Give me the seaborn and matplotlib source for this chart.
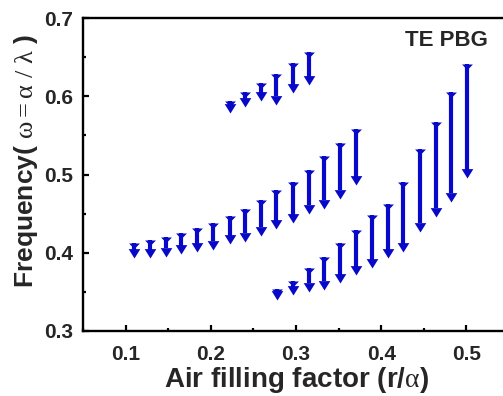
import numpy as np
import pandas as pd
import seaborn as sns
import matplotlib
matplotlib.use("Agg")
import matplotlib.pyplot as plt
from matplotlib.path import Path
from matplotlib.ticker import MultipleLocator

# Photonic band gaps (TE): each arrow runs from the upper gap edge down to the lower edge
upper_r = [0.222, 0.240, 0.259, 0.277, 0.296, 0.315]
upper_hi = [0.594, 0.605, 0.617, 0.629, 0.643, 0.657]
upper_lo = [0.578, 0.586, 0.594, 0.589, 0.604, 0.614]

middle_r = [0.110, 0.129, 0.147, 0.165, 0.184, 0.203, 0.222, 0.240,
            0.259, 0.277, 0.296, 0.315, 0.333, 0.352, 0.371]
middle_hi = [0.412, 0.416, 0.420, 0.425, 0.431, 0.438, 0.447, 0.456,
             0.467, 0.480, 0.490, 0.506, 0.524, 0.540, 0.558]
middle_lo = [0.393, 0.393, 0.395, 0.398, 0.401, 0.404, 0.411, 0.414,
             0.422, 0.430, 0.438, 0.450, 0.456, 0.469, 0.486]

lower_r = [0.278, 0.296, 0.315, 0.333, 0.352, 0.371, 0.389,
           0.408, 0.426, 0.445, 0.464, 0.482, 0.501]
lower_hi = [0.354, 0.364, 0.380, 0.394, 0.413, 0.429, 0.448,
            0.462, 0.491, 0.532, 0.567, 0.605, 0.641]
lower_lo = [0.340, 0.346, 0.350, 0.353, 0.361, 0.371, 0.380,
            0.393, 0.401, 0.427, 0.446, 0.465, 0.495]

x_ticks = [0.1, 0.2, 0.3, 0.4, 0.5]
y_ticks = [0.3, 0.4, 0.5, 0.6, 0.7]

df = pd.concat([
    pd.DataFrame({"r": upper_r, "hi": upper_hi, "lo": upper_lo, "band": "upper"}),
    pd.DataFrame({"r": middle_r, "hi": middle_hi, "lo": middle_lo, "band": "middle"}),
    pd.DataFrame({"r": lower_r, "hi": lower_hi, "lo": lower_lo, "band": "lower"}),
], ignore_index=True)

sns.set_theme(style="ticks")
plt.rcParams["font.family"] = ["Liberation Sans", "DejaVu Sans"]
plt.rcParams["mathtext.fontset"] = "custom"
plt.rcParams["mathtext.rm"] = "Liberation Serif"
plt.rcParams["mathtext.it"] = "Liberation Serif"

BLUE = "#0808C8"

fig = plt.figure(figsize=(5.03, 3.96), dpi=100)
ax = fig.add_axes([83 / 503, 65 / 396, 426 / 503, 313 / 396])
ax.set_xlim(0.05, 0.55)
ax.set_ylim(0.3, 0.7)

# arrow head: tip at the data point, base above it
head = Path([(0, 0), (0.62, 1.0), (-0.62, 1.0), (0, 0)],
            [Path.MOVETO, Path.LINETO, Path.LINETO, Path.CLOSEPOLY])
# cap: flat top at the data point, narrowing downwards
cap = Path([(-0.5, 0), (0.5, 0), (0.16, -0.35), (-0.16, -0.35), (-0.5, 0)],
           [Path.MOVETO, Path.LINETO, Path.LINETO, Path.LINETO, Path.CLOSEPOLY])

head_ms = 13.5  # points
head_h_px = 0.5 * head_ms * fig.dpi / 72
ax_h_px = ax.get_position().height * fig.get_figheight() * fig.dpi
head_h = head_h_px * (0.7 - 0.3) / ax_h_px

shaft_lo = np.minimum(df["lo"] + head_h * 0.9, df["hi"])
ax.vlines(df["r"], shaft_lo, df["hi"], color=BLUE, lw=3.0, zorder=2)

sns.scatterplot(data=df, x="r", y="lo", marker=head, s=head_ms ** 2,
                color=BLUE, edgecolor=BLUE, linewidth=0, ax=ax, zorder=3)
sns.scatterplot(data=df, x="r", y="hi", marker=cap, s=7.8 ** 2,
                color=BLUE, edgecolor=BLUE, linewidth=0, ax=ax, zorder=3)

ax.set_xticks(x_ticks)
ax.set_yticks(y_ticks)
ax.set_xticklabels([f"{v:.1f}" for v in x_ticks])
ax.set_yticklabels([f"{v:.1f}" for v in y_ticks])
ax.xaxis.set_minor_locator(MultipleLocator(0.05))
ax.yaxis.set_minor_locator(MultipleLocator(0.05))
ax.tick_params(which="both", direction="in", top=False, right=False,
               width=1.6, color="black")
ax.tick_params(which="major", length=4.5)
ax.tick_params(which="minor", length=2.3)
ax.tick_params(axis="x", which="major", pad=10, labelsize=15)
ax.tick_params(axis="y", which="major", pad=7, labelsize=15)
for lbl in ax.get_xticklabels() + ax.get_yticklabels():
    lbl.set_fontweight("bold")
for sp in ax.spines.values():
    sp.set_linewidth(1.7)
    sp.set_color("black")

ax.set_xlabel(r"Air filling factor (r/$\alpha$)", fontsize=20,
              fontweight="bold", labelpad=1)
ax.set_ylabel(r"Frequency( $\omega = \alpha\ /\ \lambda$ )", fontsize=19,
              fontweight="bold")
ax.yaxis.set_label_coords(-0.102, 0.545)

ax.text(0.476, 0.671, "TE PBG", ha="center", va="center",
        fontsize=16, fontweight="bold")

fig.savefig("out.png", dpi=100)
